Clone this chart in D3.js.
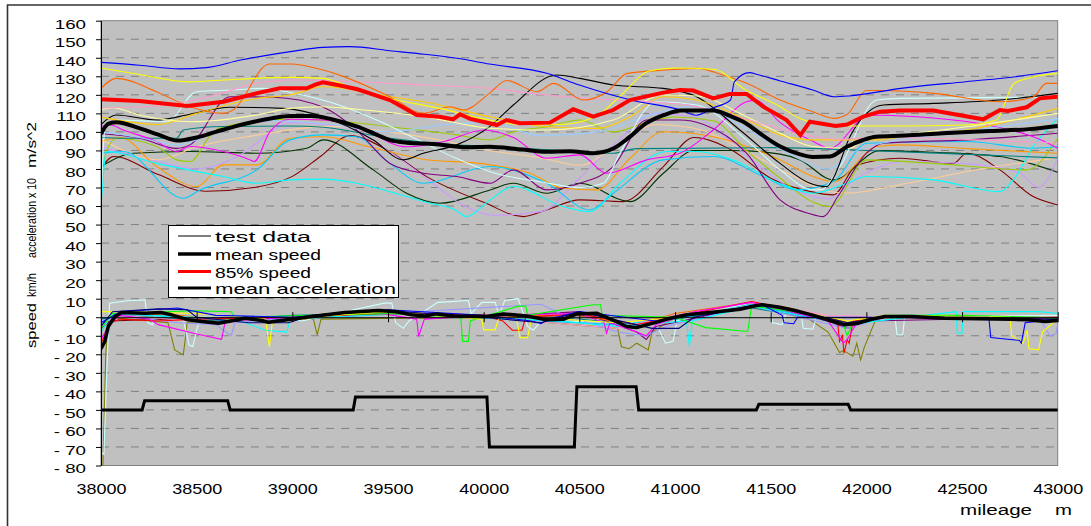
<!DOCTYPE html>
<html><head><meta charset="utf-8">
<script src="https://cdn.jsdelivr.net/npm/d3@7"></script>
<style>body{margin:0;background:#fff}svg{display:block}text{font-family:"Liberation Sans",Arial,sans-serif}</style>
</head><body><svg id="c" width="1091" height="526"></svg>
<script>
// ---------- axes ----------
const xTicks = [38000,38500,39000,39500,40000,40500,41000,41500,42000,42500,43000];
const yTicks = [-80,-70,-60,-50,-40,-30,-20,-10,0,10,20,30,40,50,60,70,80,90,100,110,120,130,140,150,160];
const legendLabels = ["test data","mean speed","85% speed","mean acceleration"];

// ---------- summary series ----------
const meanSpeed = [[38000,99],[38040,104.5],[38080,105.2],[38200,102],[38300,98.5],[38400,95.3],[38500,97],[38600,100],[38700,103],[38800,105.5],[38900,107.5],[38990,108.6],[39100,108.6],[39200,107],[39340,102.8],[39430,99],[39510,95.6],[39600,94.2],[39740,93.5],[39910,91.7],[40030,92],[40200,90.5],[40330,89.3],[40450,89.5],[40570,88.5],[40680,91.2],[40760,97],[40850,104.7],[40940,109],[41030,111.5],[41200,111.5],[41290,108.5],[41370,104.7],[41460,98],[41550,92.1],[41650,88],[41720,86.5],[41810,86.7],[41900,92.1],[41980,95.5],[42050,97.4],[42200,98],[42400,99.3],[42650,100.5],[42850,101.5],[43000,103.2]];
const speed85 = [[38000,117.6],[38200,116.7],[38450,114],[38640,116.3],[38810,120.8],[38935,123.5],[39075,123.5],[39120,125.5],[39160,126.8],[39250,125],[39340,123],[39510,117.2],[39650,109.1],[39770,108.2],[39840,106.8],[39876,109.5],[39930,107],[40030,104.7],[40068,103.7],[40120,106.4],[40190,104.7],[40346,105],[40468,112.2],[40573,108.2],[40677,111.8],[40764,117.2],[40939,121.2],[41026,122.6],[41096,122.3],[41200,118.1],[41287,120.5],[41374,120.5],[41461,113.6],[41583,106.4],[41655,98.3],[41705,105.5],[41840,103.2],[41900,104],[41984,108.2],[42071,110.9],[42176,111.5],[42350,111.5],[42611,106.8],[42698,111.8],[42740,111.3],[42838,113.3],[42907,118.1],[43000,119]];
const meanAccel = [[38000,-17],[38020,-13],[38038,-5],[38073,0.4],[38108,2.5],[38230,2.2],[38317,2.5],[38369,1.3],[38456,-1.4],[38526,-2.3],[38613,-3.2],[38665,-2.3],[38752,-0.5],[38840,-1.8],[38874,-2.7],[38944,-1.8],[39101,0.4],[39275,2.5],[39449,3.6],[39536,3.1],[39624,1.3],[39693,0.7],[39754,1.8],[39841,0.7],[40015,0.4],[40102,1.8],[40224,0.7],[40329,-1.4],[40416,-1.1],[40486,1.8],[40590,2.2],[40712,-3.2],[40747,-5],[40799,-5.6],[40886,-3.2],[40974,-0.5],[41061,1.3],[41235,3.1],[41339,4.3],[41420,6.2],[41453,6.7],[41540,5.5],[41627,3.6],[41714,1.3],[41800,-1.5],[41888,-4.1],[41958,-3.2],[42027,-1.1],[42097,0.4],[42237,0.4],[42411,-0.5],[42759,-1.1],[42846,-1.4],[42933,-2.3],[43000,-1.8]];
const stepProfile = [[38000,-50],[38215,-50],[38228,-45],[38662,-45],[38675,-50],[39318,-50],[39330,-43],[40017,-43],[40030,-70],[40474,-70],[40487,-37.5],[40797,-37.5],[40810,-50],[41425,-50],[41438,-47],[41905,-47],[41918,-50],[43000,-50]];

// ---------- test data: speed ----------
const spBlue = [[38000,137.5],[38200,136],[38410,134],[38550,134.7],[38730,138.8],[38990,143.3],[39160,145.6],[39300,146],[39510,143.8],[39690,141.9],[39860,139.7],[40030,136.6],[40330,131.6],[40500,125.3],[40770,117.2],[41030,111.8],[41110,109],[41200,113],[41290,117.2],[41310,127],[41390,132],[41430,131],[41550,127.5],[41720,122.6],[41830,119],[41910,119.4],[42180,123.5],[42520,127.1],[42780,129.8],[43000,133]];
const spYellow = [[38000,134.5],[38200,131],[38460,127],[38640,128],[38990,129.4],[39160,128.9],[39340,122.6],[39510,118],[39770,112.7],[40030,106.4],[40200,104],[40400,104],[40580,108],[40700,118],[40870,133],[41000,134.5],[41200,133.8],[41370,122.6],[41550,113.6],[41650,107.3],[41830,103.2],[42180,103.2],[42520,103.7],[42680,106.4],[42770,126],[42840,128.8],[43000,131.6]];
const spOrangeDark = [[38000,123.5],[38080,128.9],[38290,121.7],[38465,113.6],[38640,110],[38690,111.8],[38880,136.6],[38990,136.6],[39160,133.4],[39510,119],[39685,110],[39825,113.6],[39895,111.8],[40030,120.8],[40120,127.7],[40280,121.7],[40365,126.2],[40520,117.2],[40645,121.7],[40750,131.6],[40955,133.4],[41115,134.3],[41250,130.7],[41375,126.2],[41550,117.2],[41720,110.9],[41830,107.3],[41900,109.5],[42000,122.3],[42070,122.3],[42350,120.8],[42700,116.3],[42870,118.7],[42940,126.2],[43000,126.2]];
const spPink = [[38000,113],[38300,114],[38600,120],[38800,126],[38990,128],[39340,127.1],[39690,125.3],[40030,123.5],[40330,119.9],[40680,117.2],[40900,116],[41100,114],[41300,109],[41500,103],[41700,98],[41850,96],[42100,97],[42500,96],[43000,94]];
const spLightYellow = [[38000,111.8],[38060,113],[38200,109.1],[38465,105.5],[38814,109.1],[38988,112.7],[39162,113.6],[39336,112.2],[39685,108.2],[40033,102],[40329,101],[40677,106.4],[40939,119.9],[41113,119.4],[41374,108.2],[41549,99.3],[41723,92.1],[41914,91.2],[42001,96.6],[42176,98.4],[42524,102.8],[43000,110]];
const spGold = [[38000,108],[38300,104],[38500,110],[38814,118.1],[38988,119.9],[39162,124.4],[39510,119],[39685,116.3],[40033,108.2],[40329,102.8],[40590,101.9],[40765,108.2],[40939,119],[41113,117.2],[41374,106.4],[41549,98.4],[41723,95.7],[42071,95.7],[42176,97.4],[42524,101],[43000,112.7]];
const spBlack = [[38000,104],[38080,109.1],[38291,106.4],[38465,109.5],[38674,113.3],[38953,112.7],[39162,108.2],[39423,95.6],[39580,84.9],[39685,88.5],[39859,93],[40033,103],[40155,114.5],[40381,130.7],[40503,128.9],[40677,125.3],[40939,123.5],[41113,119],[41339,101],[41549,83],[41705,72.3],[41792,70.5],[41827,75],[41914,97.4],[42001,110],[42088,114.5],[42350,115.4],[42698,117.2],[43000,120.8]];
const spLightCyan = [[38000,62],[38020,101],[38082,106.4],[38343,105.5],[38500,121.7],[38692,122.6],[38848,123.5],[39000,121],[39200,116],[39450,106],[39650,96],[39850,86],[40050,78],[40300,73],[40500,70],[40625,72.3],[40712,88.5],[40904,116.3],[41113,114.5],[41374,95.6],[41549,79.5],[41723,68.7],[41760,68.7],[41862,81.3],[42054,117.2],[42176,118.1],[42872,118.7],[43000,118.5]];
const spMagenta = [[38000,103],[38050,103.7],[38117,101],[38291,94.8],[38395,89.4],[38465,92.1],[38639,89.4],[38780,84.9],[38800,84],[38883,100.1],[38988,106.8],[39162,106.4],[39336,102.8],[39597,92],[39800,95],[40000,101],[40155,97],[40329,85.8],[40503,87.6],[40643,77.7],[40852,84.9],[41026,88.5],[41200,101],[41374,116.3],[41420,117],[41550,105],[41723,94.8],[41810,91.2],[41967,106.4],[42001,109.1],[42263,108.2],[42872,97.4],[43000,91.2]];
const spPurple = [[38000,99],[38204,96.6],[38395,91.1],[38465,93],[38674,119],[38900,118.7],[39162,113.3],[39336,101],[39510,83],[39685,77.7],[39859,75.9],[40033,72.3],[40155,79.5],[40329,68.7],[40503,72.3],[40677,81.3],[40852,106.4],[41026,106.4],[41150,104],[41374,88.5],[41549,63.3],[41700,56],[41775,54.3],[41850,65],[42001,88.5],[42088,93.9],[42524,95.7],[43000,99.3]];
const spTeal = [[38000,97],[38117,96.6],[38395,96.6],[38430,101],[38639,102.9],[38988,103.2],[39162,102.5],[39510,96.6],[39859,93],[40033,92.1],[40503,89.4],[40677,88.5],[40800,91],[41500,91.5],[42000,90],[42500,88],[43000,86]];
const spCyan = [[38000,60],[38030,89.4],[38291,83],[38639,75.9],[38814,72.3],[38988,74.1],[39162,74.5],[39336,72.3],[39500,68],[39700,62],[39850,58],[39911,54.3],[40033,63.3],[40155,70.5],[40416,59.7],[40555,57],[40712,72.3],[40956,89.4],[41113,89.4],[41300,85],[41550,72],[41723,66.9],[41897,72.3],[42001,75.9],[42350,74.1],[42698,67.8],[42768,74.1],[42872,92.1],[43000,107.3]];
const spSky = [[38000,88.5],[38117,89.4],[38430,64.2],[38517,68.7],[38814,79.5],[38988,95.7],[39162,98.4],[39336,97.4],[39510,83],[39685,72.3],[40033,81.3],[40329,72.3],[40555,57.9],[40677,66.9],[40939,84.9],[41200,86.7],[41461,75.9],[41636,68.7],[41827,73.2],[42001,93.9],[42524,94.8],[42872,91.2],[43000,92.1]];
const spOlive = [[38000,76],[38030,90],[38082,96.6],[38291,92.1],[38395,84.9],[38465,84],[38587,100.1],[38639,102.8],[38988,106.8],[39162,106.4],[39510,102.8],[39859,98.4],[40033,95.7],[40155,100],[40329,102.8],[40503,106.4],[40677,100],[40850,105],[40991,108],[41200,106],[41374,90],[41549,75],[41723,62],[41810,59.7],[42001,84.9],[42350,83],[42837,79.5],[43000,96.6]];
const spOrange = [[38000,94.8],[38100,97],[38291,81.3],[38500,70.5],[38639,82.2],[38814,82.2],[38988,96.6],[39162,97.4],[39400,92],[39700,85],[39980,83],[40242,77.7],[40416,69.6],[40590,68.7],[40765,85.8],[40939,100.1],[41200,97.4],[41549,84.9],[41723,75.9],[41827,73],[42054,92.1],[42176,93],[42524,91],[43000,88.5]];
const spLightOrange = [[38000,96],[38300,85],[38500,92],[38800,98],[39200,103],[39500,100],[39800,95],[40030,90],[40300,86],[40500,82],[40700,93],[40900,104],[41100,102],[41400,88],[41600,77],[41800,68],[41900,67],[42200,72],[42600,80],[43000,86]];
const spLavender = [[38000,92],[38300,84],[38500,80],[38700,86],[39000,105],[39300,102],[39500,90],[39700,75],[39900,60],[40050,55],[40300,57],[40500,75],[40700,95],[40900,110],[41100,108],[41400,85],[41600,70],[41800,64],[41950,75],[42200,84],[42500,83],[42800,78],[42900,70],[43000,86]];
const spLightBlue = [[38000,100],[38200,97],[38400,93],[38600,100],[38900,106],[39200,104],[39500,100],[39800,104],[40030,105],[40300,98],[40600,100],[40900,110],[41100,114],[41400,100],[41600,88],[41800,80],[41950,90],[42200,96],[42500,100],[43000,107]];
const spDarkGreen = [[38000,81.3],[38169,88.5],[38465,89.4],[38814,88.5],[39075,91.2],[39162,95.7],[39423,79.5],[39597,66.9],[39772,61.5],[40033,68.7],[40155,72.3],[40329,66.9],[40503,72.3],[40765,62.4],[40939,77.7],[41100,90],[41300,90],[41549,88],[41653,84.9],[41827,74.1],[42071,89.9],[42350,89],[42698,86.7],[43000,78.2]];
const spMaroon = [[38000,80],[38065,86.7],[38300,77],[38550,68],[38800,70],[39000,76],[39150,87],[39300,98],[39500,90],[39700,76],[40000,62],[40207,54.3],[40329,57.9],[40503,63.3],[40730,62.4],[40939,81.3],[41100,97],[41300,90],[41500,75],[41700,68],[41827,66],[41950,82],[42176,85.8],[42454,83],[42524,88.5],[42698,79.5],[42872,65.1],[43000,60.6]];

// ---------- test data: acceleration ----------
const acNavy = [[38000,-5],[38060,3],[38300,4.5],[38450,4],[38500,0],[38770,-3],[38980,-3],[39100,1],[39450,4],[39700,2],[40000,0],[40300,-3],[40500,3],[40880,-6],[41020,-6],[41100,0],[41450,7],[41700,2],[41900,-3],[42100,0],[43000,-1]];
const acBlue = [[38000,-3],[38100,3],[38400,5],[38600,1],[39000,0],[39500,4],[40000,1],[40250,-2],[40300,-3.5],[40340,-1],[40500,3],[40900,-2],[41450,7],[41560,1],[41570,-3],[41620,-3.5],[41640,0],[42100,0],[42640,0],[42650,-11],[42800,-12.5],[42810,-14],[42830,-3],[43000,-1]];
const acYellow = [[38000,3],[38100,3],[38500,2],[38860,-1],[38880,-16],[38895,-3],[39200,1],[39500,3],[39990,-1],[40000,-6.8],[40060,-6.8],[40080,0],[40170,0],[40190,-11],[40230,-11],[40250,0],[40700,-3],[41000,0],[41450,7],[41900,-2],[42100,1],[42750,0],[42760,-10],[42820,-14],[42840,-7],[42850,-17],[42900,-17.6],[42920,-8],[43000,-1]];
const acRed = [[38000,-14],[38050,-3],[38100,-1],[38300,-2],[38500,-1],[39000,0],[39500,2],[40000,1],[40100,-2],[40150,-7],[40200,-7],[40220,0],[40500,2],[40800,-4],[41400,8.5],[41700,2],[41850,-3],[41860,-13],[41875,-10],[41883,-19.4],[41900,-12],[41910,-14],[41930,-2],[42100,0],[43000,-0.5]];
const acMagenta = [[38000,-12],[38050,-3],[38100,1],[38250,-1],[38300,-4],[38500,-9],[38630,-11.9],[38650,-2],[39000,0],[39400,3],[39650,-1],[39660,-10.4],[39690,-1],[40000,1],[40500,2],[40630,-3],[40642,-8.6],[40660,-3],[40800,-8],[40850,-10],[40900,-4],[41100,3],[41400,8],[41800,-2],[41880,-14],[41900,-12],[41950,-3],[42100,0],[43000,-1]];
const acGreen = [[38000,-6],[38060,2],[38490,3.5],[38680,3],[38700,0],[39500,2],[39880,0],[39890,-13],[39920,-13],[39930,-2],[40180,6],[40220,6],[40230,1],[40570,6.7],[40610,6.7],[40620,1],[41000,0],[41160,-5.6],[41380,-7.7],[41400,6],[41700,2],[41880,-4],[41900,-10],[41930,-3],[42100,1],[42500,1],[42900,0],[43000,-1]];
const acOlive = [[38000,-80],[38010,-80],[38025,-20],[38040,0],[38350,-3],[38385,-17.6],[38430,-20.3],[38440,-12],[38450,-3],[38600,-1],[39110,-1],[39130,-9.5],[39150,-1],[40000,0],[40700,-6],[40720,-16],[40760,-17],[40800,-14],[40860,-17.6],[40880,-8],[41000,0],[41400,6],[41700,-1],[41800,-8],[41860,-19],[41880,-18],[41930,-21],[41950,-14],[41970,-23],[41990,-16],[42050,-1],[42100,0],[43000,-0.5]];
const acLightCyan = [[38000,-73],[38015,-74],[38030,-30],[38045,7.6],[38150,9],[38230,9.3],[38245,-3],[38270,-4.1],[38285,2],[38430,-1],[38460,-15],[38480,-15.8],[38500,-6.8],[38520,0],[38900,0],[39050,-2],[39480,7.6],[39520,7.6],[39540,-3],[39580,-6],[39610,-2],[39760,8],[39920,9],[39935,2],[39990,8],[40060,8],[40080,1],[40110,9],[40180,10],[40200,4],[40230,-5],[40260,-7],[40300,-2],[40900,-3],[40950,-14],[40990,-13],[41010,-2],[41400,8],[41500,4],[41510,-3],[41560,-4],[41580,2],[41660,1],[41670,-6],[41720,-6.5],[41740,0],[42150,0],[42160,-9.5],[42190,-9.5],[42200,0],[43000,1]];
const acCyan = [[38000,-8],[38060,2],[38700,-1],[38860,-7],[38970,-8],[38990,-1],[39500,2],[40000,0],[40400,-2],[40700,-5],[41060,-2],[41075,-15.8],[41090,-2],[41400,6],[41900,-4],[42470,3],[42475,-8.6],[42500,-8.6],[42505,3],[42900,3],[43000,2]];
const acLavender = [[38000,-2],[38100,1],[38400,-3],[38600,-4],[38680,-10],[38700,-3],[39000,0],[39500,2],[40300,7],[40400,2],[40700,-8],[40850,-10],[40950,-5],[41400,6],[41900,-6],[42100,0],[42900,0],[42930,-5],[42960,-10],[42990,-9],[43000,-4]];
const acMaroon = [[38000,-3],[38050,-2],[38200,-1.5],[38400,-1],[38600,-2],[38900,-1],[39200,1],[39600,2],[40000,0],[40500,1],[40800,-4],[41400,6],[41800,0],[41900,-3],[42100,0],[43000,-1.5]];
const acTeal = [[38000,-1],[38100,1],[38600,-2],[39000,1],[39500,2],[40000,1],[40300,-3],[40400,0],[40800,-4],[41400,5],[41900,-3],[42100,0],[43000,-0.5]];
const acPurple = [[38000,-6],[38100,2],[38500,0],[39000,-1],[39500,3],[40000,0],[40500,3],[40800,-8],[40850,-12],[40900,-5],[41400,6],[41800,-2],[41900,-6],[42000,-2],[43000,0]];
const acOrange = [[38000,-8],[38060,2],[38400,1],[38600,-1],[39000,0],[39400,3],[40000,1],[40500,1],[40800,-4],[41000,2],[41400,8],[41600,5],[41900,-3],[42100,0],[43000,0]];
const acSky = [[38000,-3],[38080,2],[38400,0],[38700,-2],[39200,0],[39600,2],[40100,-1],[40700,-4],[41000,-1],[41400,7],[41900,-4],[42100,0],[43000,-1]];
const acPink = [[38000,-3],[38100,1],[38600,-3],[39000,0],[39500,2],[40000,0],[40700,-6],[41000,1],[41400,8],[41800,1],[42100,0],[43000,-1]];

// ---------- series tables (colours separate from values) ----------
const speedSeries = [
  [spMaroon,"#800000"],[spDarkGreen,"#003300"],[spLavender,"#cc99ff"],[spLightOrange,"#ffcc99"],
  [spOrange,"#ff9900"],[spOlive,"#99cc00"],[spSky,"#00ccff"],[spCyan,"#00ffff"],[spTeal,"#008080"],
  [spPurple,"#800080"],[spMagenta,"#ff00ff"],[spLightBlue,"#99ccff"],[spLightCyan,"#ccffff"],[spBlack,"#000000"],
  [spGold,"#ffcc00"],[spLightYellow,"#ffff99"],[spPink,"#ff99cc"],[spOrangeDark,"#ff6600"],[spYellow,"#ffff00"],[spBlue,"#0000ff"]
];
const accelSeries = [
  [acOlive,"#808000"],[acLightCyan,"#ccffff"],[acMaroon,"#800000"],[acTeal,"#008080"],[acPurple,"#800080"],
  [acOrange,"#ff6600"],[acSky,"#00ccff"],[acPink,"#ff99cc"],[acLavender,"#9999ff"],[acCyan,"#00ffff"],
  [acRed,"#ff0000"],[acMagenta,"#ff00ff"],[acGreen,"#00ff00"],[acYellow,"#ffff00"],[acBlue,"#0000ff"],[acNavy,"#000080"]
];

// ---------- drawing ----------
const svg = d3.select("#c");
const W = 1091, H = 526;
const L = 101, R = 1057.7, T = 20.7, B = 465.5;
const x = d3.scaleLinear().domain([xTicks[0], xTicks[xTicks.length-1]]).range([L, R]);
const y = d3.scaleLinear().domain([yTicks[0], yTicks[yTicks.length-1]]).range([B, T]);

svg.append("path").attr("d", `M7.5,${H} V5 H${W}`).attr("fill","none").attr("stroke","#333").attr("stroke-width",1.6);

svg.append("rect").attr("x",L).attr("y",T).attr("width",R-L).attr("height",B-T).attr("fill","#c0c0c0");

svg.append("g").selectAll("line").data(yTicks.filter(v => v !== 0 && v !== yTicks[0] && v !== yTicks[yTicks.length-1]))
  .join("line").attr("x1",L).attr("x2",R).attr("y1",d=>y(d)).attr("y2",d=>y(d))
  .attr("stroke","#808080").attr("stroke-width",1).attr("stroke-dasharray","8,7");

svg.append("rect").attr("x",L).attr("y",T).attr("width",R-L).attr("height",B-T)
  .attr("fill","none").attr("stroke","#808080").attr("stroke-width",1);

svg.append("clipPath").attr("id","clip").append("rect").attr("x",L).attr("y",T-3).attr("width",R-L+3).attr("height",B-T+3);
const plot = svg.append("g").attr("clip-path","url(#clip)");

const lineSmooth = d3.line().x(d=>x(d[0])).y(d=>y(d[1])).curve(d3.curveMonotoneX);
const lineStraight = d3.line().x(d=>x(d[0])).y(d=>y(d[1]));

plot.selectAll(".sp").data(speedSeries).join("path").attr("class","sp")
  .attr("d",d=>lineSmooth(d[0])).attr("fill","none").attr("stroke",d=>d[1]).attr("stroke-width",1.1);
plot.selectAll(".ac").data(accelSeries).join("path").attr("class","ac")
  .attr("d",d=>lineStraight(d[0])).attr("fill","none").attr("stroke",d=>d[1]).attr("stroke-width",1.1);

// x axis through zero
const gz = svg.append("g").attr("transform",`translate(0,${y(0)})`)
  .call(d3.axisBottom(x).tickValues(xTicks).tickSize(5).tickSizeOuter(0).tickFormat(""));
gz.select(".domain").attr("stroke","#000");
gz.selectAll(".tick line").attr("y1",-5).attr("y2",5).attr("stroke","#000");

plot.append("path").attr("d",lineSmooth(meanSpeed)).attr("fill","none").attr("stroke","#000").attr("stroke-width",4);
plot.append("path").attr("d",lineStraight(speed85)).attr("fill","none").attr("stroke","#ff0000").attr("stroke-width",4);
plot.append("path").attr("d",lineStraight(meanAccel)).attr("fill","none").attr("stroke","#000").attr("stroke-width",3.5).attr("stroke-linejoin","round");
plot.append("path").attr("d",lineStraight(stepProfile)).attr("fill","none").attr("stroke","#000").attr("stroke-width",3);

// y axis
const gy = svg.append("g").attr("transform",`translate(${L},0)`)
  .call(d3.axisLeft(y).tickValues(yTicks).tickSize(5).tickSizeOuter(0)
    .tickFormat(v => v < 0 ? "- " + Math.abs(v) : String(v)));
gy.attr("font-family",null).attr("font-size",null);
gy.select(".domain").attr("stroke","#000");
gy.selectAll(".tick line").attr("stroke","#000");
gy.selectAll(".tick text").attr("x",-10).attr("dy",null).attr("y",7.3)
  .attr("transform","scale(1.5,1)").style("font-size","12.5px").attr("fill","#000");

// x labels at bottom
const gx = svg.append("g").attr("transform",`translate(0,${B})`)
  .call(d3.axisBottom(x).tickValues(xTicks).tickSize(0).tickFormat(d3.format("d")));
gx.attr("font-family",null).attr("font-size",null);
gx.select(".domain").remove();
gx.selectAll(".tick text").attr("y",28.5).attr("dy",null).style("font-size","15.5px")
  .attr("textLength",50).attr("lengthAdjust","spacingAndGlyphs").attr("fill","#000");

// axis titles
svg.append("text").attr("x",960).attr("y",515).style("font-size","14px")
  .attr("textLength",72).attr("lengthAdjust","spacingAndGlyphs").text("mileage");
svg.append("text").attr("x",1055).attr("y",515).style("font-size","14px")
  .attr("textLength",17).attr("lengthAdjust","spacingAndGlyphs").text("m");

const yt = svg.append("g").attr("transform","translate(35.5,348) rotate(-90)");
[["speed",0,45],["km/h",51,24],["acceleration x 10",90,80],["m/s^2",180,46]].forEach(p => {
  yt.append("text").attr("x",p[1]).attr("y",0).style("font-size","13px")
    .attr("textLength",p[2]).attr("lengthAdjust","spacingAndGlyphs").text(p[0]);
});

// legend
const lg = svg.append("g");
lg.append("rect").attr("x",168.5).attr("y",225.5).attr("width",230).attr("height",72)
  .attr("fill","#fff").attr("stroke","#000").attr("stroke-width",1);
const legendStyle = [["#000",1.2],["#000",3.5],["#ff0000",3],["#000",3]];
const legendY = [236,254,271.5,288];
const legendLen = [96,106,96,181];
legendLabels.forEach((lab,i) => {
  lg.append("line").attr("x1",178).attr("x2",211).attr("y1",legendY[i]).attr("y2",legendY[i])
    .attr("stroke",legendStyle[i][0]).attr("stroke-width",legendStyle[i][1]);
  lg.append("text").attr("x",215).attr("y",legendY[i]+6).style("font-size","15px")
    .attr("textLength",legendLen[i]).attr("lengthAdjust","spacingAndGlyphs").text(lab);
});
</script>
</body></html>
